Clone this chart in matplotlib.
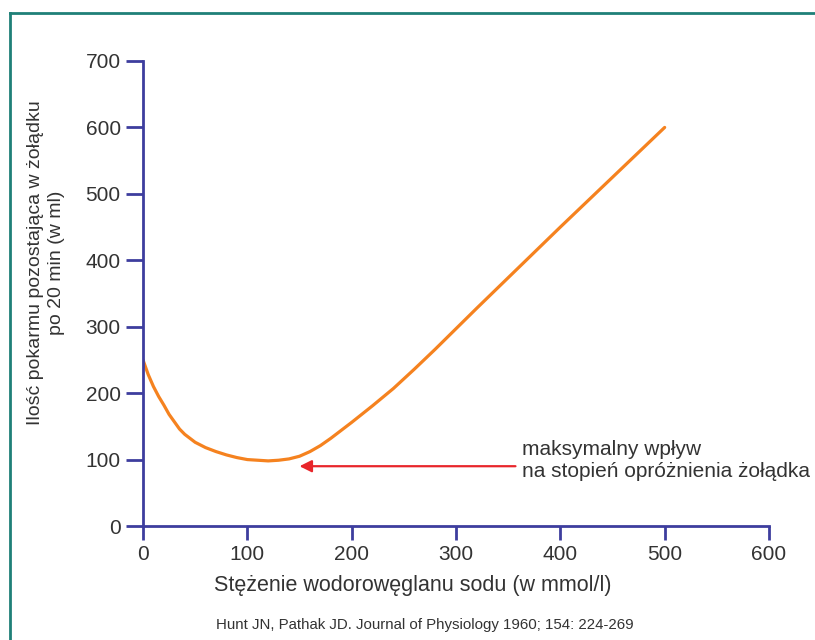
import numpy as np
import matplotlib.pyplot as plt
from matplotlib.lines import Line2D

# data
conc = [0, 5, 10, 15, 20, 25, 30, 35, 40, 50, 60, 70, 80, 90, 100, 110, 120,
        130, 140, 150, 160, 170, 180, 190, 200, 220, 240, 260, 280, 320, 360,
        400, 450, 500]
volume = [250, 228, 210, 195, 182, 168, 157, 146, 138, 126, 118, 112, 107,
          103, 100, 99, 98, 99, 101, 105, 112, 121, 132, 144, 156, 181, 207,
          236, 266, 328, 389, 450, 525, 600]

x_ticks = [0, 100, 200, 300, 400, 500, 600]
y_ticks = [0, 100, 200, 300, 400, 500, 600, 700]

axis_col = '#3d3d9e'
text_col = '#333333'
plt.rcParams['font.family'] = ['Liberation Sans', 'DejaVu Sans']

fig = plt.figure(figsize=(8.15, 6.4), dpi=100)
ax = fig.add_axes([143/815, 1-526/640, (769-143)/815, (526-61)/640])

ax.plot(conc, volume, color='#f5821f', lw=2.3, solid_capstyle='round',
        solid_joinstyle='round')
ax.annotate('', xy=(150, 90), xytext=(357, 90),
            arrowprops=dict(arrowstyle='-|>', color='#e8262b', lw=1.6,
                            mutation_scale=18, shrinkA=0, shrinkB=0))
ax.text(363, 99, 'maksymalny wpływ\nna stopień opróżnienia żołądka',
        fontsize=15, color=text_col, va='center', ha='left',
        linespacing=1.2, clip_on=False)

ax.set_xlim(0, 600)
ax.set_ylim(0, 700)
ax.set_xticks(x_ticks)
ax.set_yticks(y_ticks)
for s in ['top', 'right']:
    ax.spines[s].set_visible(False)
for s in ['left', 'bottom']:
    ax.spines[s].set_color(axis_col)
    ax.spines[s].set_linewidth(2)
ax.tick_params(colors=axis_col, width=2, length=10, labelcolor=text_col,
               labelsize=15)
ax.tick_params(axis='y', length=12, pad=4)
ax.tick_params(axis='x', pad=4)

fig.text(413/815, 1-585/640, 'Stężenie wodorowęglanu sodu (w mmol/l)',
         ha='center', va='center', fontsize=15.5, color=text_col)
fig.text(46/815, 1-263/640,
         'Ilość pokarmu pozostająca w żołądku\npo 20 min (w ml)',
         rotation=90, ha='center', va='center', fontsize=14,
         color=text_col, multialignment='center', linespacing=1.25)
fig.text(425/815, 1-625/640,
         'Hunt JN, Pathak JD. Journal of Physiology 1960; 154: 224-269',
         ha='center', va='center', fontsize=10.8, color=text_col)

# teal frame on the left and top edges
fc = '#1f8078'
fig.add_artist(Line2D([10/815, 10/815], [0, 1-13/640], color=fc, lw=2,
                      transform=fig.transFigure))
fig.add_artist(Line2D([10/815, 1], [1-13/640, 1-13/640], color=fc, lw=2,
                      transform=fig.transFigure))

fig.savefig('out.png', dpi=100)
